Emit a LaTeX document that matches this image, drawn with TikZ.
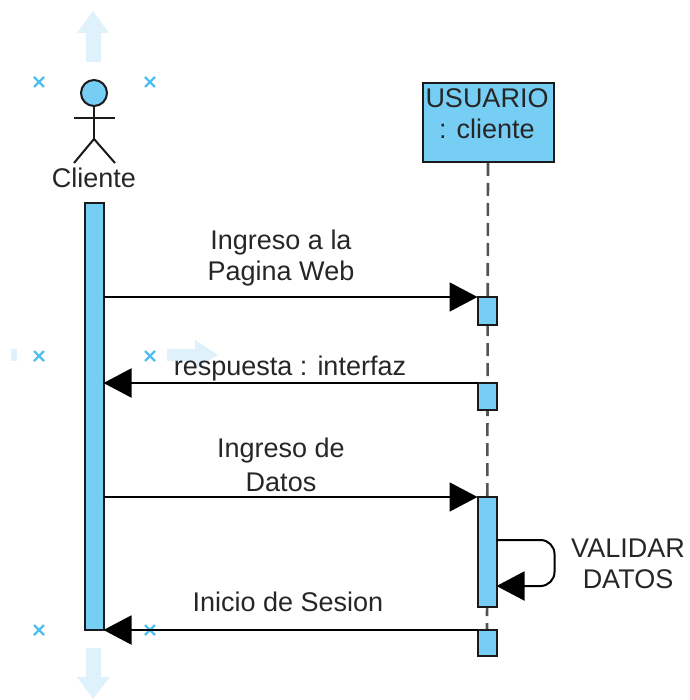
\documentclass[tikz,border=0pt]{standalone}
\usepackage{fontspec}
\setmainfont{Liberation Sans}
\usetikzlibrary{arrows.meta,positioning,calc}
\definecolor{fillblue}{HTML}{76CEF5}
\definecolor{crossblue}{HTML}{4FBFF2}
\definecolor{ghostblue}{HTML}{DFF2FC}
\definecolor{inkline}{HTML}{1A1A1A}
\tikzset{
  bar/.style={draw=inkline,line width=2pt,fill=fillblue,minimum width=19pt,inner sep=0pt,outer sep=0pt,anchor=north west},
  lbl/.style={font=\fontsize{27}{31}\selectfont,text=black!85,align=center,inner sep=0pt},
  msg/.style={draw=black,line width=2pt,-{Triangle[length=28pt,width=29pt]}},
  lifeline/.style={draw=inkline!75,line width=2.6pt,dash pattern=on 13pt off 7pt},
  crossmark/.style={draw=crossblue,line width=2.2pt},
  ghost/.style={fill=ghostblue,draw=none},
  limb/.style={draw=inkline,line width=2pt}
}
\begin{document}
\begin{tikzpicture}[x=1pt,y=-1pt]
\useasboundingbox (0,0) rectangle (689,700);
% faded handles
\fill[ghost] (86,62) -- (86,33) -- (77,33) -- (93,11) -- (109,33) -- (101,33) -- (101,62) -- cycle;
\fill[ghost] (86,648) -- (86,677) -- (77,677) -- (93,699) -- (110,677) -- (101,677) -- (101,648) -- cycle;
\fill[ghost] (167,349) -- (195,349) -- (195,340) -- (218,355) -- (195,369) -- (195,361) -- (167,361) -- cycle;
\fill[ghost] (11,349) rectangle (17,361);
% crosses
\foreach \cx/\cy in {39/82,150/82,39/356,150/356,39/630,150/630}
  \draw[crossmark] (\cx-5,\cy-5) -- (\cx+5,\cy+5) (\cx-5,\cy+5) -- (\cx+5,\cy-5);
% actor
\node[circle,draw=inkline,line width=2pt,fill=fillblue,minimum size=26pt,inner sep=0pt] (head) at (94,93) {};
\coordinate (hip) at (94,139);
\coordinate (handL) at (74,118);
\coordinate (handR) at (115,118);
\coordinate (footL) at (74,163);
\coordinate (footR) at (115,163);
\draw[limb] (head.south) -- (hip);
\draw[limb] (handL) -- (handR);
\draw[limb] (footL) -- (hip) -- (footR);
\node[lbl] (cliente) at (94,178) {Cliente};
% user box
\node[draw=inkline,line width=2pt,fill=fillblue,minimum width=131pt,minimum height=79pt,inner sep=0pt,anchor=north west] (usuario) at (421.5,82) {};
\node[lbl] (usuariotxt) at (487,98) {USUARIO};
\node[lbl] (clientetxt) at (487,129) {: cliente};
\coordinate (lifeend) at (487,630);
\draw[lifeline] (usuario.south) -- (lifeend);
% activation bars
\node[bar,minimum height=427pt] (a0) at (84.5,203) {};
\node[bar,minimum height=28pt] (a1) at (477.5,297) {};
\node[bar,minimum height=27pt] (a2) at (477.5,383) {};
\node[bar,minimum height=110pt] (a3) at (477.5,497) {};
\node[bar,minimum height=26pt] (a4) at (477.5,630) {};
% messages
\draw[msg] (a0.east |- a1.north) -- (a1.north west);
\draw[msg] (a2.north west) -- (a0.east |- a2.north);
\draw[msg] (a0.east |- a3.north) -- (a3.north west);
\draw[msg] (a4.north west) -- (a0.south east);
\coordinate (selfa) at (a3.east |- 0,540);
\coordinate (selfb) at (a3.east |- 0,586);
\draw[msg,rounded corners=14pt] (selfa) -- ++(58,0) -- ++(0,46) -- (selfb);
% labels
\node[lbl] (m1a) at (281,243) {Ingreso a la};
\node[lbl] (m1b) at (281,274) {Pagina Web};
\node[lbl] (m2) at (290,369) {respuesta : interfaz};
\node[lbl] (m3a) at (281,451) {Ingreso de};
\node[lbl] (m3b) at (281,482) {Datos};
\node[lbl] (m4a) at (628,548) {VALIDAR};
\node[lbl] (m4b) at (628,579) {DATOS};
\node[lbl] (m5) at (288,602) {Inicio de Sesion};
\end{tikzpicture}
\end{document}
